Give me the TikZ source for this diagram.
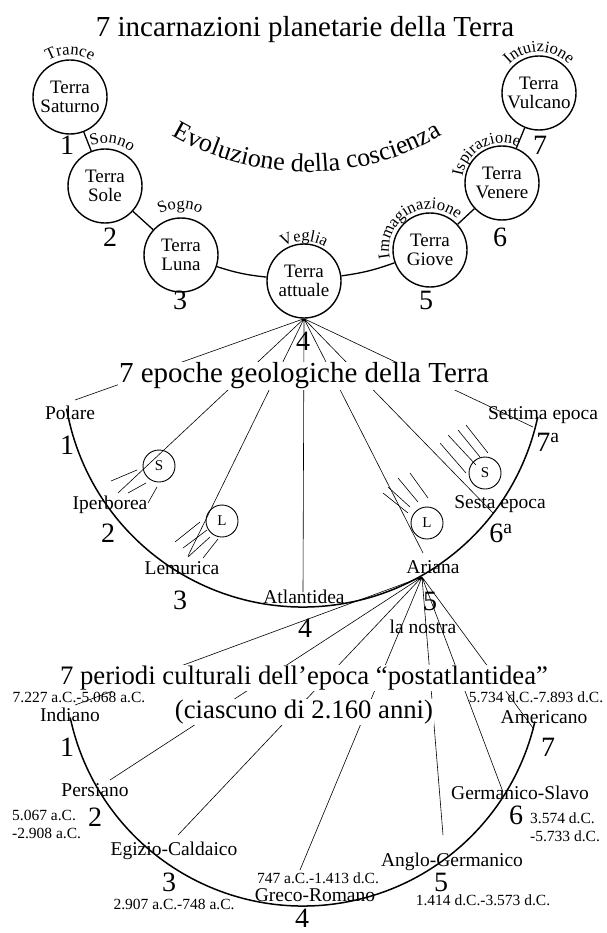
\documentclass[tikz,border=0pt]{standalone}
\usepackage{fontspec}
\setmainfont{Liberation Serif}
\usetikzlibrary{decorations.text}
\newcommand\arcfont{\fontsize{16.5}{16.5}\selectfont}
\newcommand\evofont{\fontsize{26}{26}\selectfont}
\tikzstyle{planet} = [draw, circle, line width=1.4pt, minimum size=74pt, inner sep=-3pt, align=center, font=\fontsize{19}{19.5}\selectfont]
\tikzstyle{body} = [draw, circle, line width=0.9pt, minimum size=32pt, inner sep=0pt, font=\fontsize{15}{15}\selectfont]
\tikzstyle{heading} = [fill=white, inner sep=1pt, font=\fontsize{29}{29}\selectfont]
\tikzstyle{subheading} = [fill=white, inner sep=0.5pt, font=\fontsize{26.7}{26.7}\selectfont]
\tikzstyle{num} = [inner sep=0pt, font=\fontsize{28}{28}\selectfont]
\tikzstyle{era} = [inner sep=0pt, font=\fontsize{19.5}{19.5}\selectfont]
\tikzstyle{date} = [inner sep=0pt, align=left, font=\fontsize{15.5}{18}\selectfont]
\tikzstyle{link} = [line width=1.3pt]
\tikzstyle{bow} = [line width=1.5pt]
\tikzstyle{fan} = [line width=0.6pt]
\tikzstyle{ray} = [line width=0.6pt]
\tikzset{curved/.style={decorate, decoration={text along path, text align=center, text={#1}}}}

\begin{document}
\begin{tikzpicture}[x=1pt, y=1pt]
		\useasboundingbox (0,0) rectangle (606,-933);
		% Planets
		\node[planet] (sat)     at (70,-97)   {Terra\\Saturno};
		\node[planet] (sole)    at (105,-186) {Terra\\Sole};
		\node[planet] (luna)    at (181,-255) {Terra\\Luna};
		\node[planet] (att)     at (304,-281) {Terra\\attuale};
		\node[planet] (giove)   at (430,-250) {Terra\\Giove};
		\node[planet] (venere)  at (502,-183) {Terra\\Venere};
		\node[planet] (vulcano) at (539,-93)  {Terra\\Vulcano};
		%Links
		\draw[link] (sat) -- (sole);
		\draw[link] (sole) -- (luna);
		\draw[link] (luna) to[bend right=6] (att);
		\draw[link] (att) to[bend right=6] (giove);
		\draw[link] (giove) -- (venere);
		\draw[link] (venere) -- (vulcano);
		% Numbers
		\node[num] (p1) at (67,-145)  {1};
		\node[num] (p2) at (110,-237) {2};
		\node[num] (p3) at (180,-300) {3};
		\node[num] (p4) at (303,-341) {4};
		\node[num] (p5) at (426,-300) {5};
		\node[num] (p6) at (500,-237) {6};
		\node[num] (p7) at (540,-145) {7};
		% States of consciousness
		\path[curved={|\arcfont|Trance}] ([shift={(150:42)}]sat.center) arc[start angle=150, end angle=30, radius=42];
		\path[curved={|\arcfont|Sonno}] ([shift={(141:43)}]sole.center) arc[start angle=141, end angle=21, radius=43];
		\path[curved={|\arcfont|Sogno}] ([shift={(151:46)}]luna.center) arc[start angle=151, end angle=31, radius=46];
		\path[curved={|\arcfont|Veglia}] ([shift={(150:40)}]att.center) arc[start angle=150, end angle=30, radius=40];
		\path[curved={|\arcfont|Immaginazione}] ([shift={(210:41)}]giove.center) arc[start angle=210, end angle=30, radius=41];
		\path[curved={|\arcfont|Ispirazione}] ([shift={(198:40)}]venere.center) arc[start angle=198, end angle=38, radius=40];
		\path[curved={|\arcfont|Intuizione}] ([shift={(165:41)}]vulcano.center) arc[start angle=165, end angle=15, radius=41];
		\path[curved={|\evofont|Evoluzione della coscienza}] ([shift={(234:267)}]307,95) arc[start angle=234, end angle=306, radius=267];
		\node[heading] (t1) at (305,-30) {7 incarnazioni planetarie della Terra};

		% Geological epochs
		\coordinate (ec) at (303,-367);
		\draw[bow] ([shift={(190:240)}]ec) arc[start angle=190, end angle=348, radius=240];
		\coordinate (pol) at (75,-400);
		\coordinate (ipe) at (118,-493);
		\coordinate (lem) at (188,-556);
		\coordinate (atl) at (303,-592);
		\coordinate (ari) at (423,-553);
		\coordinate (ses) at (493,-513);
		\coordinate (set) at (533,-427);
		\coordinate (ar)  at (422,-577);
		\node[body] (s1) at (159,-466) {S};
		\node[body] (l1) at (222,-521) {L};
		\node[body] (s2) at (485,-473) {S};
		\node[body] (l2) at (427,-523) {L};
		\draw[fan] (att.south) -- (pol) (att.south) -- (ipe) (att.south) -- (lem) (att.south) -- (atl)
			(att.south) -- (ari) (att.south) -- (ses) (att.south) -- (set);
		% Rays
		\draw[ray] (137,-470) -- (111,-481) (146,-483) -- (128,-493) (157,-487) -- (148,-503);
		\draw[ray] (200,-522) -- (175,-542) (207,-530) -- (183,-548) (210,-537) -- (188,-557) (218,-539) -- (203,-558);
		\draw[ray] (466,-473) -- (440,-443) (476,-465) -- (448,-435) (480,-457) -- (458,-430) (488,-453) -- (466,-425);
		\draw[ray] (408,-513) -- (383,-493) (410,-507) -- (388,-487) (418,-502) -- (398,-478) (428,-498) -- (410,-473);
		\node[heading] (t2) at (304,-376) {7 epoche geologiche della Terra};
		\node[era] (polare) at (70,-413)  {Polare};
		\node[num] (e1)     at (67,-445)  {1};
		\node[era] (iperb)  at (110,-505) {Iperborea};
		\node[num] (e2)     at (108,-533) {2};
		\node[era] (lemur)  at (182,-568) {Lemurica};
		\node[num] (e3)     at (180,-600) {3};
		\node[era] (atlan)  at (304,-597) {Atlantidea};
		\node[num] (e4)     at (305,-628) {4};
		\node[era] (arian)  at (433,-567) {Ariana};
		\node[num] (e5)     at (430,-601) {5};
		\node[era] (nostra) at (423,-627) {la nostra};
		\node[era] (sesta)  at (500,-504) {Sesta epoca};
		\node[num] (e6)     at (501,-533) {6\textsuperscript{a}};
		\node[era] (settim) at (543,-415) {Settima epoca};
		\node[num] (e7)     at (548,-442) {7\textsuperscript{a}};

		% Cultural periods
		\coordinate (pc) at (303,-668);
		\draw[bow] ([shift={(192:238)}]pc) arc[start angle=192, end angle=347, radius=238];
		\coordinate (ind) at (75,-705);
		\coordinate (per) at (110,-780);
		\coordinate (egi) at (178,-835);
		\coordinate (gre) at (300,-870);
		\coordinate (ang) at (443,-835);
		\coordinate (ger) at (503,-792);
		\coordinate (ame) at (533,-728);
		\draw[fan] (ar) -- (ind) (ar) -- (per) (ar) -- (egi) (ar) -- (gre) (ar) -- (ang) (ar) -- (ger) (ar) -- (ame);
		\node[subheading] (t3) at (304,-678) {7 periodi culturali dell’epoca “postatlantidea”};
		\node[subheading] (t4) at (304,-712) {(ciascuno di 2.160 anni)};
		\node[date] (d1)     at (79,-697)  {7.227 a.C.-5.068 a.C.};
		\node[era]  (indiano) at (70,-715) {Indiano};
		\node[num]  (c1)     at (67,-747)  {1};
		\node[era]  (persia) at (95,-790)  {Persiano};
		\node[num]  (c2)     at (95,-817)  {2};
		\node[date, anchor=west] (d2) at (12,-824) {5.067 a.C.\\-2.908 a.C.};
		\node[era]  (egizio) at (174,-851) {Egizio-Caldaico};
		\node[num]  (c3)     at (169,-882) {3};
		\node[date] (d3)     at (174,-904) {2.907 a.C.-748 a.C.};
		\node[date] (d4)     at (318,-878) {747 a.C.-1.413 d.C.};
		\node[era]  (greco)  at (315,-895) {Greco-Romano};
		\node[num]  (c4)     at (302,-918) {4};
		\node[era]  (anglo)  at (452,-862) {Anglo-Germanico};
		\node[num]  (c5)     at (441,-882) {5};
		\node[date] (d5)     at (483,-900) {1.414 d.C.-3.573 d.C.};
		\node[era]  (germ)   at (520,-793) {Germanico-Slavo};
		\node[num]  (c6)     at (516,-815) {6};
		\node[date, anchor=west] (d6) at (530,-827) {3.574 d.C.\\-5.733 d.C.};
		\node[date] (d7)     at (536,-697) {5.734 d.C.-7.893 d.C.};
		\node[era]  (americ) at (544,-717) {Americano};
		\node[num]  (c7)     at (548,-747) {7};
\end{tikzpicture}
\end{document}
